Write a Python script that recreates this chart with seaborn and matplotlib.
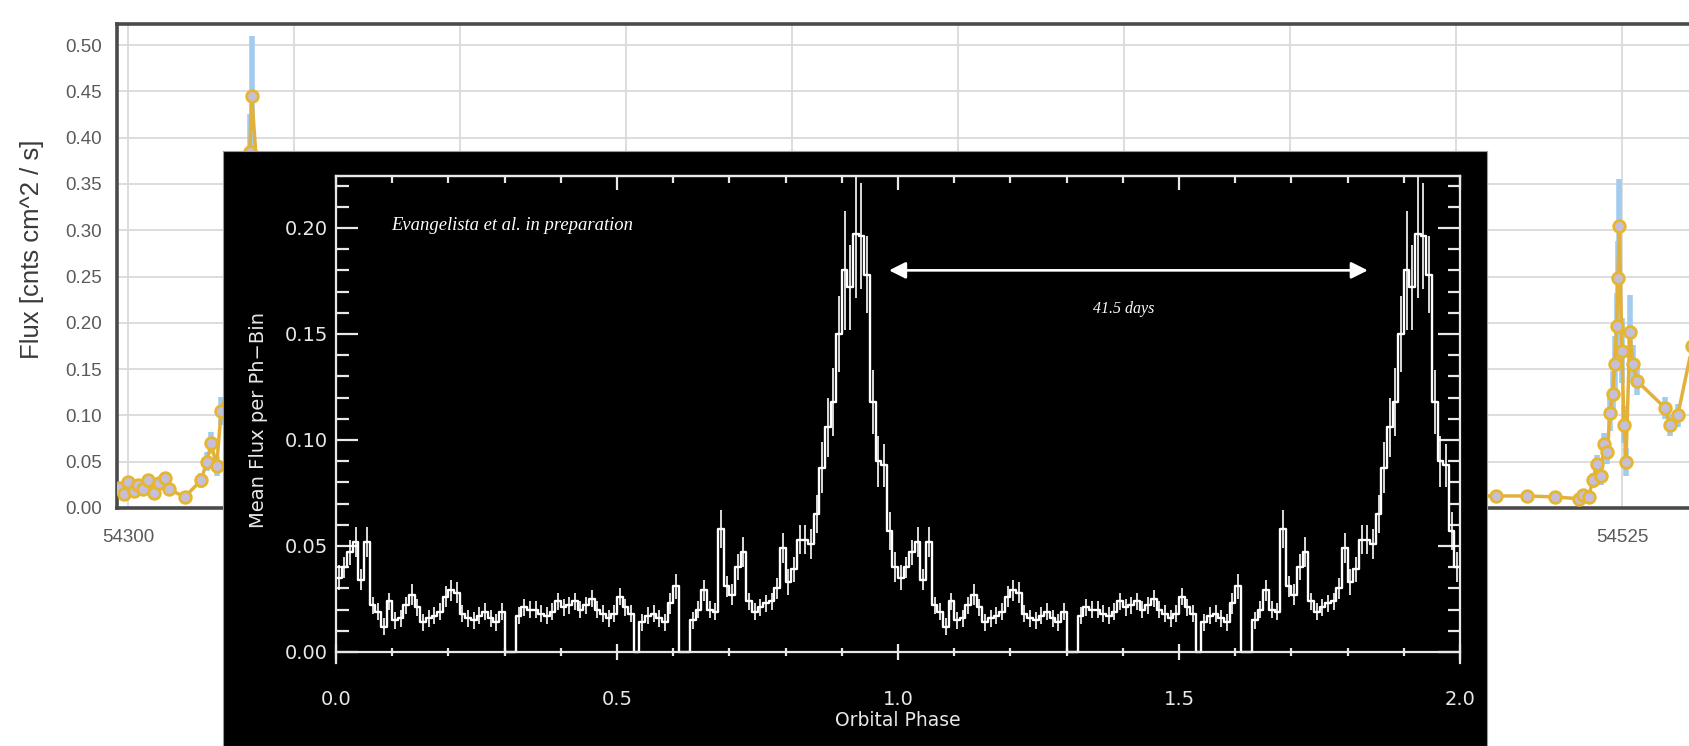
import numpy as np
import pandas as pd
import matplotlib
matplotlib.use("Agg")
import matplotlib.pyplot as plt
from matplotlib.ticker import MultipleLocator
import seaborn as sns

# ---- background light curve (MJD, flux, error) ----
lc_days = [54298.6, 54299.3, 54300.0, 54300.8, 54301.5, 54302.2, 54303.0, 54303.8,
           54304.6, 54305.5, 54306.2, 54308.5, 54311.0, 54311.8, 54312.5, 54313.3,
           54314.0, 54316.0, 54318.3, 54318.6, 54321.0, 54324.0, 54330.0, 54360.0,
           54400.0, 54450.0, 54490.0, 54506.0, 54510.7, 54514.9, 54518.5, 54519.2,
           54520.0, 54520.6, 54521.2, 54521.8, 54522.3, 54522.8, 54523.2, 54523.6,
           54523.9, 54524.2, 54524.4, 54524.6, 54525.0, 54525.3, 54525.6, 54526.2,
           54526.6, 54527.3, 54531.5, 54532.2, 54533.4, 54535.6]
lc_flux = [0.022, 0.015, 0.028, 0.018, 0.025, 0.020, 0.030, 0.016,
           0.027, 0.032, 0.020, 0.012, 0.030, 0.050, 0.070, 0.045,
           0.105, 0.150, 0.385, 0.445, 0.200, 0.080, 0.020, 0.015,
           0.012, 0.014, 0.013, 0.013, 0.013, 0.012, 0.010, 0.014,
           0.012, 0.030, 0.047, 0.035, 0.069, 0.060, 0.103, 0.123,
           0.156, 0.197, 0.248, 0.305, 0.170, 0.090, 0.050, 0.190,
           0.156, 0.137, 0.108, 0.090, 0.100, 0.175]
lc_err = [0.006, 0.006, 0.006, 0.006, 0.006, 0.006, 0.006, 0.006,
          0.006, 0.006, 0.006, 0.005, 0.008, 0.010, 0.012, 0.010,
          0.015, 0.020, 0.040, 0.065, 0.030, 0.015, 0.006, 0.005,
          0.005, 0.005, 0.005, 0.005, 0.005, 0.005, 0.005, 0.005,
          0.005, 0.008, 0.010, 0.010, 0.012, 0.012, 0.020, 0.025,
          0.030, 0.035, 0.040, 0.050, 0.035, 0.020, 0.015, 0.040,
          0.020, 0.015, 0.012, 0.012, 0.012, 0.020]
day_ticks = [54300, 54325, 54350, 54375, 54400, 54425, 54450, 54475, 54500, 54525]
day_labels = ["54300", "", "", "", "", "", "", "", "", "54525"]  # rest hidden by inset

# ---- folded light curve, 100 phase bins (shown over two cycles) ----
fold_flux = [
    0.035, 0.040, 0.047, 0.052, 0.034, 0.052, 0.022, 0.019, 0.012, 0.024,
    0.015, 0.016, 0.022, 0.027, 0.021, 0.014, 0.016, 0.017, 0.019, 0.026,
    0.029, 0.028, 0.018, 0.016, 0.015, 0.017, 0.019, 0.016, 0.014, 0.019,
    0.000, 0.000, 0.017, 0.021, 0.020, 0.020, 0.018, 0.017, 0.019, 0.024,
    0.021, 0.022, 0.024, 0.020, 0.022, 0.025, 0.020, 0.018, 0.016, 0.018,
    0.026, 0.021, 0.018, 0.000, 0.014, 0.017, 0.018, 0.016, 0.014, 0.023,
    0.031, 0.000, 0.000, 0.015, 0.020, 0.029, 0.020, 0.019, 0.058, 0.031,
    0.027, 0.040, 0.047, 0.024, 0.019, 0.021, 0.023, 0.024, 0.030, 0.049,
    0.033, 0.039, 0.053, 0.053, 0.051, 0.065, 0.087, 0.106, 0.118, 0.150,
    0.180, 0.172, 0.197, 0.196, 0.178, 0.118, 0.090, 0.088, 0.057, 0.040,
]
fold_err = [
    0.006, 0.005, 0.006, 0.007, 0.005, 0.007, 0.004, 0.004, 0.004, 0.004,
    0.004, 0.004, 0.004, 0.005, 0.004, 0.004, 0.004, 0.004, 0.004, 0.005,
    0.005, 0.005, 0.004, 0.004, 0.004, 0.004, 0.004, 0.004, 0.004, 0.004,
    0.000, 0.000, 0.004, 0.004, 0.004, 0.004, 0.004, 0.004, 0.004, 0.004,
    0.004, 0.004, 0.004, 0.004, 0.004, 0.004, 0.004, 0.004, 0.004, 0.004,
    0.004, 0.004, 0.004, 0.000, 0.004, 0.004, 0.004, 0.004, 0.004, 0.005,
    0.006, 0.000, 0.000, 0.004, 0.004, 0.005, 0.004, 0.004, 0.009, 0.005,
    0.005, 0.006, 0.007, 0.004, 0.004, 0.004, 0.004, 0.004, 0.005, 0.007,
    0.006, 0.006, 0.007, 0.007, 0.007, 0.009, 0.012, 0.014, 0.016, 0.018,
    0.028, 0.020, 0.030, 0.025, 0.018, 0.015, 0.012, 0.010, 0.009, 0.007,
]
n_bins = 100
n_cycles = 2

W, H = 1689, 746


def box(x0, y0, x1, y1):
    return [x0 / W, 1 - y1 / H, (x1 - x0) / W, (y1 - y0) / H]


sns.set_style("white")
plt.rcParams['font.family'] = ['Liberation Sans', 'DejaVu Sans']

fig = plt.figure(figsize=(W / 100, H / 100), dpi=100)

# ---------------- main (background) chart ----------------
ax = fig.add_axes(box(117, 24, 1689, 508))
ax.set_xlim(54298.3, 54535.1)
ax.set_ylim(0, 0.5227)
ax.set_xticks(day_ticks)
ax.set_xticklabels(day_labels)
ax.set_yticks(np.arange(0, 0.51, 0.05))
ax.set_yticklabels(["%.2f" % v for v in np.arange(0, 0.51, 0.05)])
ax.grid(True, color='#dadada', lw=1.3)
ax.set_axisbelow(True)
for s in ['left', 'top', 'bottom']:
    ax.spines[s].set_color('#4a4a4a')
    ax.spines[s].set_linewidth(2.6)
ax.spines['right'].set_visible(False)
ax.tick_params(axis='y', length=0, labelsize=13.5, labelcolor='#5a5a5a', pad=11)
ax.tick_params(axis='x', length=0, labelsize=13.5, labelcolor='#5a5a5a', pad=15)

lc = pd.DataFrame({'day': lc_days, 'flux': lc_flux, 'err': lc_err})
ax.errorbar(lc['day'], lc['flux'], yerr=lc['err'], fmt='none', ecolor='#a3cbef',
            elinewidth=4, zorder=2)
sns.lineplot(data=lc, x='day', y='flux', sort=False, color='#e2b13c', lw=2.5,
             ax=ax, zorder=3)
sns.scatterplot(data=lc, x='day', y='flux', s=70, color='#c6bfdc', edgecolor='#e6b62e',
                linewidth=2, ax=ax, zorder=4)
ax.set_xlabel("")
ax.set_ylabel("Flux [cnts cm^2 / s]", fontsize=18.5, color='#3a3a3a', labelpad=15)
ax.yaxis.label.set_y(0.535)

# ---------------- inset: folded light curve ----------------
bg = fig.add_axes(box(223, 151, 1487, 746))
bg.set_facecolor('black')
bg.set_xticks([])
bg.set_yticks([])
for s in bg.spines.values():
    s.set_color('#9a9a9a')
    s.set_linewidth(0.8)
bg.set_zorder(5)

ax_in = fig.add_axes(box(336, 176, 1460, 663))
ax_in.set_zorder(6)
ax_in.patch.set_visible(False)

edges = np.arange(n_bins * n_cycles + 1) / n_bins
centers = (edges[:-1] + edges[1:]) / 2
fold = pd.DataFrame({'phase': centers,
                     'flux': fold_flux * n_cycles,
                     'err': fold_err * n_cycles})

sns.histplot(data=fold, x='phase', weights='flux', bins=list(edges), element='step',
             fill=False, color='white', linewidth=1.7, ax=ax_in)
ok = fold[fold['flux'] > 0]
ax_in.vlines(ok['phase'], ok['flux'] - ok['err'], ok['flux'] + ok['err'],
             color='white', lw=1.2)

ax_in.set_xlim(0, 2)
ax_in.set_ylim(-0.0052, 0.2245)
ax_in.spines['bottom'].set_position(('data', 0))
fg = '#e8e8e8'
for s in ax_in.spines.values():
    s.set_color(fg)
    s.set_linewidth(1.6)

ax_in.xaxis.set_major_locator(MultipleLocator(0.5))
ax_in.xaxis.set_minor_locator(MultipleLocator(0.1))
ax_in.yaxis.set_major_locator(MultipleLocator(0.05))
ax_in.yaxis.set_minor_locator(MultipleLocator(0.01))
ax_in.xaxis.set_major_formatter(plt.FuncFormatter(lambda v, p: "%.1f" % v))
ax_in.yaxis.set_major_formatter(plt.FuncFormatter(lambda v, p: "%.2f" % v))

ax_in.tick_params(axis='y', which='major', direction='in', length=16, width=1.6,
                  left=True, right=True, color=fg, labelcolor=fg, labelsize=14, pad=6)
ax_in.tick_params(axis='y', which='minor', direction='in', length=9, width=1.6,
                  left=True, right=True, color=fg)
ax_in.tick_params(axis='x', which='major', direction='inout', length=11, width=1.6,
                  bottom=True, top=False, color=fg, labelcolor=fg, labelsize=14, pad=22)
ax_in.tick_params(axis='x', which='minor', direction='inout', length=6, width=1.6,
                  bottom=True, top=False, color=fg)
for lab in ax_in.get_xticklabels() + ax_in.get_yticklabels():
    lab.set_family('DejaVu Sans')

top = ax_in.secondary_xaxis('top')
top.xaxis.set_major_locator(MultipleLocator(0.5))
top.xaxis.set_minor_locator(MultipleLocator(0.1))
top.tick_params(which='major', direction='in', length=10, width=1.6, color=fg,
                labeltop=False)
top.tick_params(which='minor', direction='in', length=5, width=1.6, color=fg)
top.spines['top'].set_color(fg)
top.spines['top'].set_linewidth(1.6)

ax_in.set_xlabel("Orbital Phase", color=fg, fontsize=13.5, family='DejaVu Sans', labelpad=1)
ax_in.set_ylabel("Mean Flux per Ph\u2212Bin", color=fg, fontsize=14, family='DejaVu Sans',
                 labelpad=12)

ax_in.text(0.098, 0.201, "Evangelista et al. in preparation", color='white',
           family='Liberation Serif', style='italic', fontsize=13.4, va='center')
ax_in.annotate("", xy=(0.984, 0.180), xytext=(1.836, 0.180),
               arrowprops=dict(arrowstyle='<|-|>', color='white', lw=1.9,
                               mutation_scale=25, shrinkA=0, shrinkB=0))
ax_in.text(1.401, 0.162, "41.5 days", color='white', family='Liberation Serif',
           style='italic', fontsize=11.5, ha='center', va='center')

fig.savefig("out.png", dpi=100)
